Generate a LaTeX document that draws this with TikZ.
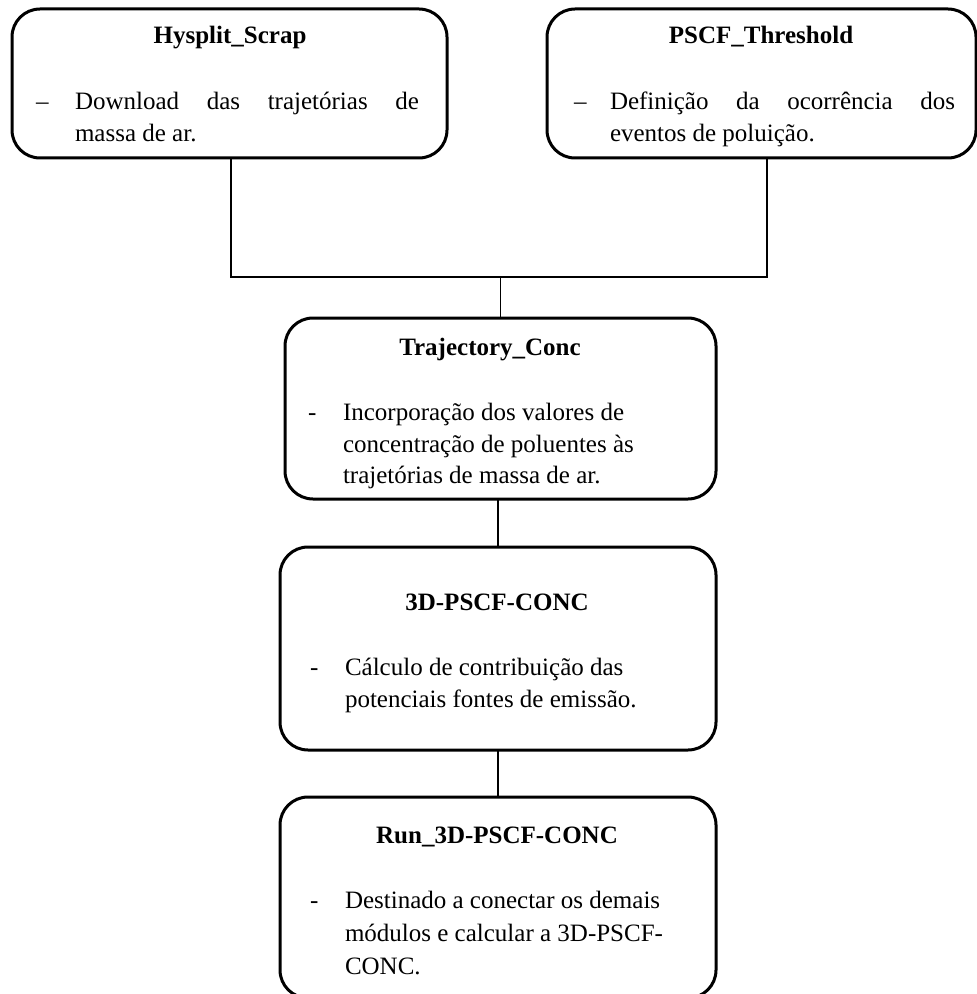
\documentclass[tikz,border=0pt]{standalone}
\usepackage{fontspec}
\setmainfont{Liberation Serif}
\begin{document}
\begin{tikzpicture}[x=0.5pt,y=-0.5pt,
  box/.style={draw, line width=1.5pt, rounded corners=14pt, inner sep=0pt, outer sep=0pt, rectangle},
  conn/.style={line width=0.8pt},
  txt/.style={inner sep=0pt, outer sep=0pt, anchor=base west, font=\fontsize{12.5}{15}\selectfont},
  ttl/.style={inner sep=0pt, outer sep=0pt, anchor=base, font=\fontsize{12.5}{15}\selectfont\bfseries},
  dsh/.style={inner sep=0pt, outer sep=0pt, anchor=base west, font=\fontsize{12.5}{15}\selectfont}]
\path[fill=white, use as bounding box] (0,0) rectangle (976,994);

% boxes
\node[box, minimum width=217.5pt, minimum height=74.5pt] (b1) at (229.5,83.5) {};
\node[box, minimum width=214.5pt, minimum height=74.5pt] (b2) at (761.5,83.5) {};
\node[box, minimum width=215.5pt, minimum height=90.5pt] (b3) at (500.5,408.5) {};
\node[box, minimum width=218pt, minimum height=101.5pt] (b4) at (498,648.5) {};
\node[box, minimum width=218pt, minimum height=100.5pt] (b5) at (498,897.5) {};

% connectors
\coordinate (j1) at (231,277);
\coordinate (j2) at (767,277);
\draw[conn] (j1 |- b1.south) -- (j1) -- (j2) -- (j2 |- b2.south);
\draw[conn] (b3.north |- j1) -- (b3.north);
\draw[conn] (b4.north |- b3.south) -- (b4.north);
\draw[conn] (b4.south) -- (b5.north);

% box 1
\node[ttl] (t1) at (230,44) {Hysplit\_Scrap};
\node[dsh] (d1) at (36,110) {–};
\node[txt] (l11) at (75,110) {\makebox[172pt][s]{Download das trajetórias de}};
\node[txt] (l12) at (75,142) {massa de ar.};

% box 2
\node[ttl] (t2) at (761,44) {PSCF\_Threshold};
\node[dsh] (d2) at (574,110) {–};
\node[txt] (l21) at (610,110) {\makebox[172.5pt][s]{Definição da ocorrência dos}};
\node[txt] (l22) at (610,142) {eventos de poluição.};

% box 3
\node[ttl] (t3) at (490,355) {Trajectory\_Conc};
\node[dsh] (d3) at (308,420) {-};
\node[txt] (l31) at (343,420) {Incorporação dos valores de};
\node[txt] (l32) at (343,452) {concentração de poluentes às};
\node[txt] (l33) at (343,483) {trajetórias de massa de ar.};

% box 4
\node[ttl] (t4) at (497,610) {3D-PSCF-CONC};
\node[dsh] (d4) at (310,675) {-};
\node[txt] (l41) at (345,675) {Cálculo de contribuição das};
\node[txt] (l42) at (345,707) {potenciais fontes de emissão.};

% box 5
\node[ttl] (t5) at (497,843) {Run\_3D-PSCF-CONC};
\node[dsh] (d5) at (310,908) {-};
\node[txt] (l51) at (345,908) {Destinado a conectar os demais};
\node[txt] (l52) at (345,941) {módulos e calcular a 3D-PSCF-};
\node[txt] (l53) at (345,974) {CONC.};
\end{tikzpicture}
\end{document}
